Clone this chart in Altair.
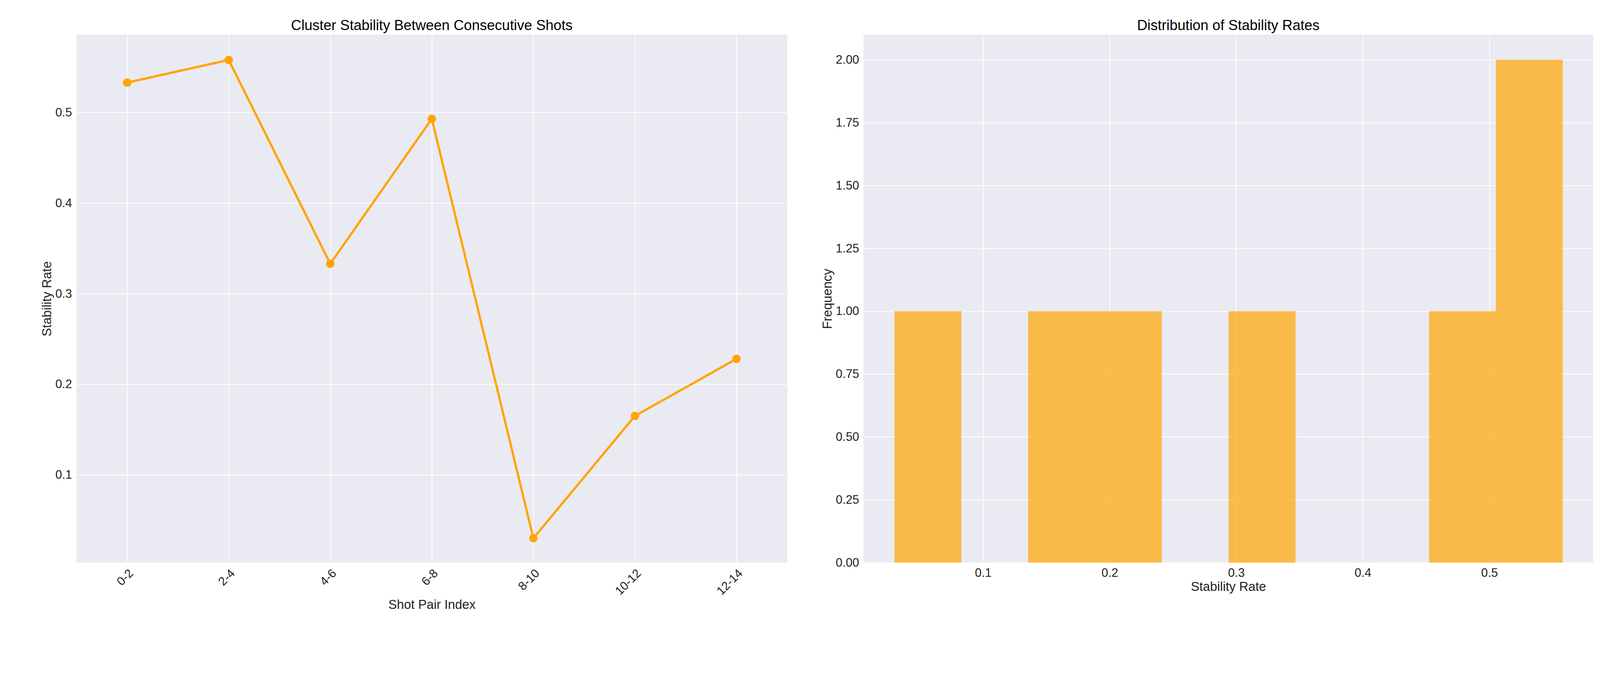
import altair as alt
import pandas as pd
import numpy as np

pairs = ["0-2", "2-4", "4-6", "6-8", "8-10", "10-12", "12-14"]
rates = [0.533, 0.558, 0.333, 0.493, 0.030, 0.165, 0.228]

counts, edges = np.histogram(rates, bins=10)
hist = pd.DataFrame({"lo": edges[:-1], "hi": edges[1:], "n": counts})
line_df = pd.DataFrame({"pair": pairs, "rate": rates})

F = "Liberation Sans"
ax = dict(labelFontSize=32, titleFontSize=34, labelFont=F, titleFont=F, titleFontWeight="normal",
          gridColor="white", gridWidth=2, domain=False, ticks=False, labelColor="#222",
          titleColor="#222", labelPadding=12)

left_base = alt.Chart(line_df).encode(
    x=alt.X("pair:N", sort=pairs, title="Shot Pair Index",
            scale=alt.Scale(paddingOuter=0.2),
            axis=alt.Axis(labelAngle=-45, grid=True, **ax)),
    y=alt.Y("rate:Q", title="Stability Rate", scale=alt.Scale(domain=[0.003, 0.586], nice=False, zero=False),
            axis=alt.Axis(values=[0.1, 0.2, 0.3, 0.4, 0.5], format=".1f", **ax)),
)
left = (left_base.mark_line(color="#FFA500", strokeWidth=6) +
        left_base.mark_point(color="#FFA500", filled=True, size=500, opacity=1)).properties(
    width=1892, height=1405,
    title=alt.TitleParams("Cluster Stability Between Consecutive Shots", fontSize=38, font=F, fontWeight="normal"))

right = alt.Chart(hist).mark_bar(color="#FFA500", opacity=0.7).encode(
    x=alt.X("lo:Q", title="Stability Rate", scale=alt.Scale(domain=[0.0055, 0.582], nice=False),
            axis=alt.Axis(values=[0.1, 0.2, 0.3, 0.4, 0.5], format=".1f", **ax)),
    x2="hi:Q",
    y=alt.Y("n:Q", title="Frequency", scale=alt.Scale(domain=[0, 2.1], nice=False),
            axis=alt.Axis(values=[0, 0.25, 0.5, 0.75, 1, 1.25, 1.5, 1.75, 2], format=".2f", **ax)),
    y2=alt.datum(0),
).properties(
    width=1942, height=1405,
    title=alt.TitleParams("Distribution of Stability Rates", fontSize=38, font=F, fontWeight="normal"))

chart = alt.hconcat(left, right, spacing=90).properties(
    background="white", padding={"left": 100, "top": 10, "right": 10, "bottom": 10}
).configure_view(fill="#EAEAF2", stroke=None)
chart.save("out.html", embed_options={"renderer": "svg", "actions": False})
